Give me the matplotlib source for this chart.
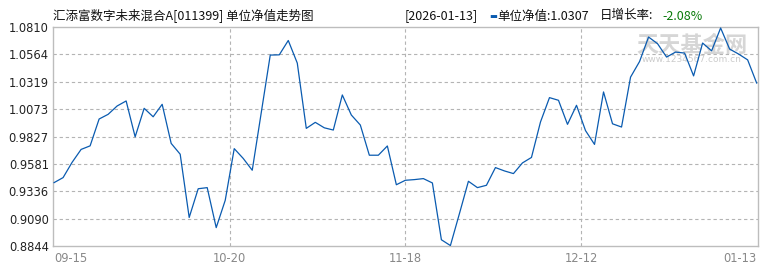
import matplotlib
matplotlib.use("Agg")
import matplotlib.pyplot as plt
import numpy as np

plt.rcParams['font.family'] = ['Noto Sans CJK SC', 'DejaVu Sans']

title = "汇添富数字未来混合A[011399] 单位净值走势图"
latest_date = "2026-01-13"
latest_nav = "1.0307"
daily_change = "-2.08%"

nav = [
    0.9413, 0.9458, 0.9595, 0.9711, 0.9743, 0.9984, 1.0026, 1.0101, 1.0146, 0.9824,
    1.0080, 1.0004, 1.0116, 0.9765, 0.9668, 0.9100, 0.9358, 0.9368, 0.9009, 0.9254,
    0.9718, 0.9630, 0.9524, 1.0041, 1.0558, 1.0560, 1.0689, 1.0486, 0.9900, 0.9954,
    0.9905, 0.9885, 1.0200, 1.0020, 0.9930, 0.9659, 0.9659, 0.9742, 0.9394, 0.9434,
    0.9440, 0.9449, 0.9410, 0.8900, 0.8848, 0.9134, 0.9425, 0.9368, 0.9389, 0.9548,
    0.9518, 0.9494, 0.9590, 0.9639, 0.9957, 1.0176, 1.0152, 0.9936, 1.0107, 0.9880,
    0.9756, 1.0227, 0.9941, 0.9912, 1.0360, 1.0500, 1.0720, 1.0660, 1.0540, 1.0585,
    1.0576, 1.0371, 1.0666, 1.0596, 1.0801, 1.0612, 1.0567, 1.0515, 1.0307,
]

y_ticks = [0.8844, 0.9090, 0.9336, 0.9581, 0.9827, 1.0073, 1.0319, 1.0564, 1.0810]
y_tick_labels = ["0.8844", "0.9090", "0.9336", "0.9581", "0.9827",
                 "1.0073", "1.0319", "1.0564", "1.0810"]
x_tick_labels = ["09-15", "10-20", "11-18", "12-12", "01-13"]

W, H = 770, 270
fig = plt.figure(figsize=(W / 100, H / 100), dpi=100)
fig.patch.set_facecolor("white")
ax = fig.add_axes([53 / W, 1 - 246 / H, (758 - 53) / W, (246 - 27) / H])

x = np.arange(len(nav))
n = len(nav) - 1
ax.plot(x, nav, color="#0a5bb0", lw=0.9, zorder=3)

ax.set_xlim(-0.12, n + 0.15)
ax.set_ylim(y_ticks[0], y_ticks[-1])

# grid
grid_kw = dict(color="#b4b4b4", lw=0.8, ls=(0, (3, 2.5)), zorder=1)
for v in y_ticks[1:-1]:
    ax.axhline(v, **grid_kw)
x_tick_pos = [n * k / 4 for k in range(5)]
for p in x_tick_pos[1:-1]:
    ax.axvline(p, **grid_kw)

ax.set_yticks(y_ticks)
ax.set_yticklabels(y_tick_labels, fontsize=8.3, family="DejaVu Sans", color="#222222")
ax.set_xticks(x_tick_pos)
ax.set_xticklabels(x_tick_labels, fontsize=8.3, family="DejaVu Sans", color="#888888")
ax.tick_params(axis="both", length=0)
ax.tick_params(axis="y", pad=3)
ax.tick_params(axis="x", pad=4)
xl = ax.get_xticklabels()
xl[0].set_horizontalalignment("left")
xl[-1].set_horizontalalignment("right")

for s in ax.spines.values():
    s.set_color("#bdbdbd")
    s.set_linewidth(1.0)

# watermark
ax.text(692 / W, 1 - 45 / H, "天天基金网", transform=fig.transFigure, fontsize=16,
        color="#d6d6d6", ha="center", va="center", fontweight="bold", zorder=2)
ax.text(692 / W, 1 - 60 / H, "www.1234567.com.cn", transform=fig.transFigure,
        fontsize=6.5, color="#cccccc", ha="center", va="center", family="DejaVu Sans", zorder=2)

# header
ty = 1 - 16 / H
fig.text(53 / W, ty, title, fontsize=9, ha="left", va="center", color="#111111")
fig.text(405 / W, ty, "[" + latest_date + "]", fontsize=9, ha="left", va="center", color="#111111")
fig.text(489 / W, ty, "▬", fontsize=6, ha="left", va="center", color="#0a5bb0",
         family="DejaVu Sans")
fig.text(497 / W, ty, "单位净值:" + latest_nav, fontsize=9, ha="left", va="center", color="#111111")
fig.text(600 / W, ty, "日增长率:", fontsize=9, ha="left", va="center", color="#111111")
fig.text(662 / W, ty, daily_change, fontsize=9, ha="left", va="center", color="#0a7a0a")

fig.savefig("out.png", dpi=100, facecolor="white")
